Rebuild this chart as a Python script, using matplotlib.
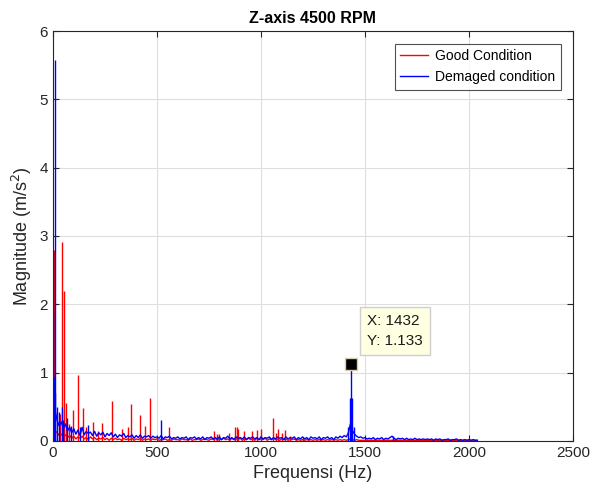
import numpy as np
import matplotlib
matplotlib.use('Agg')
import matplotlib.pyplot as plt

plt.rcParams['font.family'] = ['Liberation Sans', 'DejaVu Sans']

# frequency grid of the noise floor (Hz)
freq_grid = np.arange(0, 2050, 10)

# noise floor, damaged condition (blue), one row per 100 Hz
blue_floor = [
    0.95, 0.45, 0.30, 0.22, 0.28, 0.18, 0.25, 0.15, 0.20, 0.12,
    0.18, 0.10, 0.16, 0.08, 0.20, 0.09, 0.14, 0.11, 0.13, 0.08,
    0.14, 0.07, 0.12, 0.09, 0.13, 0.06, 0.11, 0.08, 0.12, 0.06,
    0.10, 0.05, 0.09, 0.07, 0.11, 0.05, 0.08, 0.06, 0.09, 0.04,
    0.08, 0.05, 0.09, 0.04, 0.07, 0.06, 0.08, 0.04, 0.07, 0.05,
    0.06, 0.04, 0.08, 0.03, 0.06, 0.05, 0.07, 0.03, 0.05, 0.04,
    0.06, 0.03, 0.05, 0.04, 0.06, 0.02, 0.05, 0.04, 0.06, 0.03,
    0.05, 0.03, 0.06, 0.02, 0.05, 0.04, 0.06, 0.03, 0.05, 0.03,
    0.06, 0.02, 0.05, 0.04, 0.07, 0.03, 0.05, 0.02, 0.06, 0.04,
    0.05, 0.03, 0.06, 0.02, 0.05, 0.04, 0.06, 0.03, 0.05, 0.02,
    0.06, 0.03, 0.05, 0.04, 0.06, 0.02, 0.05, 0.03, 0.06, 0.04,
    0.05, 0.02, 0.06, 0.03, 0.05, 0.04, 0.06, 0.02, 0.05, 0.03,
    0.06, 0.03, 0.05, 0.02, 0.06, 0.04, 0.05, 0.03, 0.06, 0.02,
    0.05, 0.04, 0.06, 0.03, 0.05, 0.02, 0.06, 0.04, 0.07, 0.05,
    0.08, 0.06, 0.12, 0.25, 0.15, 0.10, 0.07, 0.05, 0.06, 0.04,
    0.05, 0.03, 0.04, 0.03, 0.05, 0.02, 0.04, 0.03, 0.05, 0.02,
    0.04, 0.03, 0.05, 0.07, 0.04, 0.02, 0.04, 0.03, 0.04, 0.02,
    0.04, 0.02, 0.03, 0.02, 0.04, 0.02, 0.03, 0.02, 0.03, 0.02,
    0.03, 0.02, 0.03, 0.01, 0.03, 0.02, 0.03, 0.01, 0.02, 0.02,
    0.03, 0.01, 0.02, 0.02, 0.03, 0.01, 0.02, 0.01, 0.02, 0.01,
    0.02, 0.01, 0.02, 0.01, 0.01,
]

# noise floor, good condition (red)
red_floor = [
    0.30, 0.15, 0.12, 0.08, 0.10, 0.06, 0.09, 0.05, 0.08, 0.04,
    0.07, 0.03, 0.06, 0.04, 0.07, 0.03, 0.05, 0.02, 0.06, 0.03,
    0.05, 0.02, 0.04, 0.03, 0.05, 0.02, 0.04, 0.01, 0.04, 0.02,
    0.04, 0.02, 0.03, 0.01, 0.04, 0.02, 0.03, 0.02, 0.04, 0.01,
    0.03, 0.02, 0.04, 0.01, 0.03, 0.02, 0.03, 0.01, 0.03, 0.02,
    0.03, 0.01, 0.02, 0.02, 0.03, 0.01, 0.02, 0.01, 0.03, 0.02,
    0.02, 0.01, 0.03, 0.02, 0.02, 0.01, 0.03, 0.01, 0.02, 0.02,
    0.03, 0.01, 0.02, 0.03, 0.02, 0.01, 0.03, 0.02, 0.04, 0.01,
    0.03, 0.02, 0.04, 0.02, 0.03, 0.01, 0.04, 0.02, 0.03, 0.02,
    0.04, 0.01, 0.03, 0.02, 0.04, 0.02, 0.03, 0.01, 0.04, 0.02,
    0.03, 0.02, 0.04, 0.01, 0.03, 0.02, 0.04, 0.02, 0.03, 0.01,
    0.03, 0.02, 0.03, 0.01, 0.02, 0.02, 0.03, 0.01, 0.02, 0.01,
    0.02, 0.01, 0.02, 0.01, 0.02, 0.01, 0.02, 0.01, 0.02, 0.01,
    0.02, 0.01, 0.02, 0.01, 0.02, 0.01, 0.02, 0.01, 0.02, 0.01,
    0.02, 0.01, 0.02, 0.03, 0.02, 0.01, 0.02, 0.01, 0.01, 0.01,
    0.01, 0.01, 0.01, 0.01, 0.01, 0.01, 0.01, 0.01, 0.01, 0.01,
    0.01, 0.01, 0.01, 0.01, 0.01, 0.01, 0.01, 0.01, 0.01, 0.01,
    0.01, 0.01, 0.01, 0.01, 0.01, 0.01, 0.01, 0.01, 0.01, 0.01,
    0.01, 0.01, 0.01, 0.01, 0.01, 0.01, 0.01, 0.01, 0.01, 0.01,
    0.01, 0.01, 0.01, 0.01, 0.01, 0.01, 0.01, 0.01, 0.01, 0.01,
    0.01, 0.01, 0.01, 0.01, 0.01,
]

# discrete peaks (Hz, m/s^2)
red_peak_f = [3, 35, 42, 53, 62, 75, 98, 122, 144, 160, 191, 215, 237, 282,
              330, 360, 373, 418, 440, 465, 556, 775, 787, 800, 845, 875, 883,
              891, 920, 955, 979, 1000, 1059, 1070, 1084, 1100, 1115, 1140,
              1200, 1285]
red_peak_a = [2.8, 0.4, 2.91, 2.2, 0.55, 0.25, 0.45, 0.97, 0.48, 0.2, 0.28,
              0.15, 0.27, 0.59, 0.18, 0.2, 0.54, 0.38, 0.22, 0.63, 0.2, 0.14,
              0.1, 0.1, 0.12, 0.21, 0.2, 0.18, 0.15, 0.15, 0.16, 0.18, 0.34,
              0.12, 0.17, 0.12, 0.16, 0.08, 0.06, 0.05]

blue_peak_f = [2, 5, 8, 12, 18, 30, 44, 50, 66, 85, 130, 170, 519,
               1420, 1426, 1432, 1437, 1445, 1635]
blue_peak_a = [1.87, 0.94, 5.57, 0.7, 0.5, 0.42, 0.5, 0.3, 0.33, 0.22, 0.2,
               0.24, 0.31, 0.2, 0.63, 1.133, 0.63, 0.2, 0.08]

tip_f = 1432
tip_a = 1.133

fig = plt.figure(figsize=(5.98, 4.93), dpi=100)
ax = fig.add_axes([0.0886, 0.1055, 0.8696, 0.8316])

ax.plot(freq_grid, red_floor, color='red', lw=1, label='Good Condition')
ax.vlines(red_peak_f, 0, red_peak_a, color='red', lw=1)
ax.plot(freq_grid, blue_floor, color='blue', lw=1, label='Demaged condition')
ax.vlines(blue_peak_f, 0, blue_peak_a, color='blue', lw=1)

# data tip
ax.plot([tip_f], [tip_a], marker='s', ms=9, mfc='black', mec='#d8d0a8',
        mew=1, zorder=5)
ax.text(1510, 1.61, 'X: %d\nY: %.3f' % (tip_f, tip_a), fontsize=11,
        color='#1a1a1a', va='center', ha='left', linespacing=1.55,
        bbox=dict(boxstyle='square,pad=0.45', fc='#ffffe1', ec='#cfcfcf', lw=1),
        zorder=6)

ax.set_xlim(0, 2500)
ax.set_ylim(0, 6)
ax.set_xticks([0, 500, 1000, 1500, 2000, 2500])
ax.set_yticks([0, 1, 2, 3, 4, 5, 6])
ax.grid(True, color='#dedede', lw=0.8)
ax.set_axisbelow(True)
ax.tick_params(direction='in', top=True, right=True, labelsize=11,
               colors='#262626', length=4)
for s in ax.spines.values():
    s.set_color('#262626')
    s.set_linewidth(0.8)

ax.set_title('Z-axis 4500 RPM', fontsize=11.5, fontweight='bold', color='black')
ax.set_xlabel('Frequensi (Hz)', fontsize=13, color='#262626')
ax.set_ylabel('Magnitude (m/s$^2$)', fontsize=13, color='#262626')

leg = ax.legend(loc='upper right', fontsize=10, frameon=True, fancybox=False,
                edgecolor='#262626', borderaxespad=0.9, handlelength=2.0,
                handletextpad=0.5)
leg.get_frame().set_linewidth(0.8)

fig.savefig('out.png', dpi=100)
